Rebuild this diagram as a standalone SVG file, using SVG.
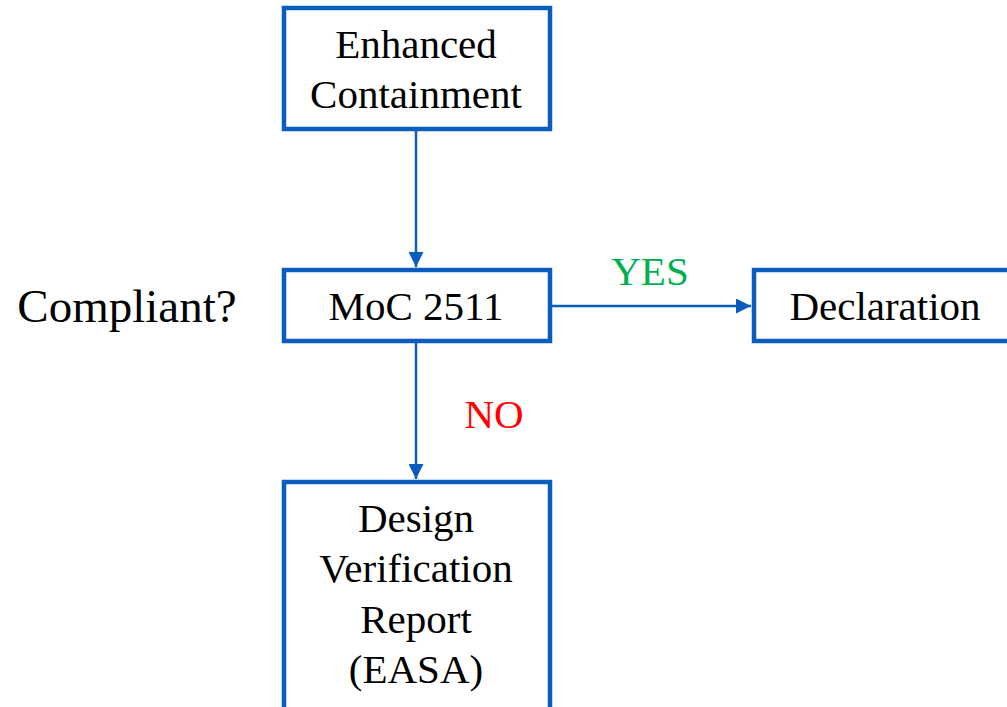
<svg xmlns="http://www.w3.org/2000/svg" width="1007" height="707" viewBox="0 0 1007 707">
<style>
.box{fill:#fff;stroke:#0A5CBE;stroke-width:4.5}
.t{font-family:'Times New Roman','Liberation Serif',Tinos,serif;font-size:41px;fill:#000;text-anchor:middle}
.c{fill:none;stroke:#0A5CBE;stroke-width:2.5}
</style>
<defs>
<marker id="ah" viewBox="0 0 10 10" refX="10" refY="5" markerWidth="6" markerHeight="6" markerUnits="strokeWidth" orient="auto">
<path d="M0,0 L10,5 L0,10 z" fill="#0A5CBE"/>
</marker>
</defs>
<rect width="1007" height="707" fill="#fff"/>
<g id="connectors">
<line class="c" x1="416" y1="130" x2="416" y2="267" marker-end="url(#ah)"/>
<line class="c" x1="552" y1="306" x2="751" y2="306" marker-end="url(#ah)"/>
<line class="c" x1="416" y1="342" x2="416" y2="479" marker-end="url(#ah)"/>
<text class="t" x="650" y="285" style="fill:#00B050">YES</text>
<text class="t" x="494" y="428" style="fill:#FF0000">NO</text>
</g>
<g id="enhanced">
<rect class="box" x="284" y="8" width="266" height="121"/>
<text class="t" x="416" y="58">Enhanced</text>
<text class="t" x="416" y="108">Containment</text>
</g>
<g id="moc">
<rect class="box" x="284" y="270" width="266" height="71"/>
<text class="t" x="416" y="320">MoC 2511</text>
</g>
<g id="declaration">
<rect class="box" x="754" y="270" width="270" height="71"/>
<text class="t" x="885" y="320">Declaration</text>
</g>
<g id="dvr">
<rect class="box" x="284" y="482" width="266" height="240"/>
<text class="t" x="416" y="532">Design</text>
<text class="t" x="416" y="582">Verification</text>
<text class="t" x="416" y="633">Report</text>
<text class="t" x="416" y="683">(EASA)</text>
</g>
<g id="label">
<text class="t" x="127" y="322" style="font-size:47px">Compliant?</text>
</g>
</svg>
